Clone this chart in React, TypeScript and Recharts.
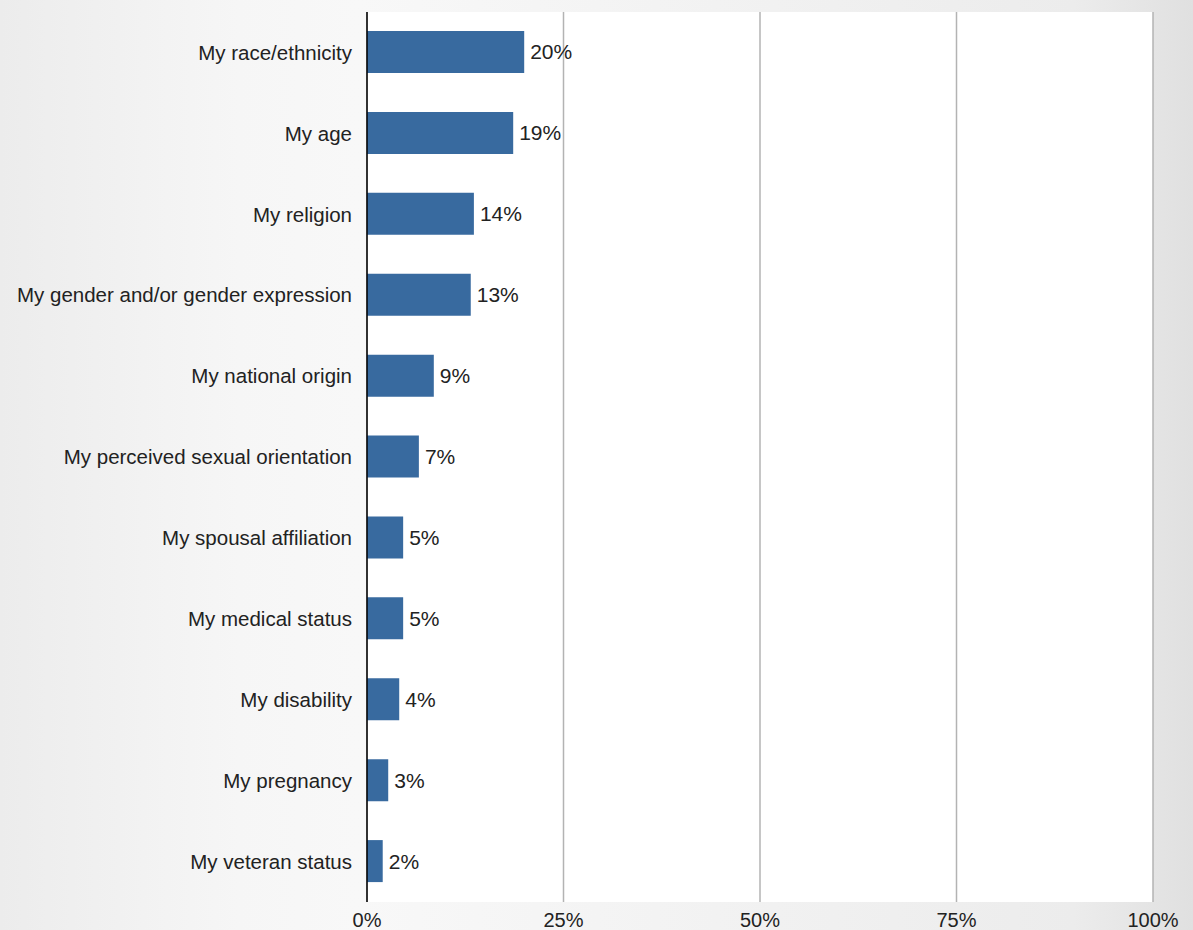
import { BarChart, Bar, XAxis, YAxis, CartesianGrid, LabelList } from 'recharts';

const categories = [
    'My race/ethnicity',
    'My age',
    'My religion',
    'My gender and/or gender expression',
    'My national origin',
    'My perceived sexual orientation',
    'My spousal affiliation',
    'My medical status',
    'My disability',
    'My pregnancy',
    'My veteran status'
];

// bar lengths (percent)
const shares = [20.0, 18.6, 13.6, 13.2, 8.5, 6.6, 4.6, 4.6, 4.1, 2.7, 2.0];

const xTicks = [0, 25, 50, 75, 100];

const data = categories.map((category, i) => ({ category, share: shares[i] }));

const font = '"Liberation Sans", Arial, Helvetica, sans-serif';

export default function App() {
    return (
        <div
            style={{
                width: 1193,
                height: 930,
                fontFamily: font,
                background:
                    'linear-gradient(to right, #ececec 0%, #f6f6f6 20%, #f8f8f8 30%, #ececec 90%, #e0e0e0 100%)'
            }}
        >
            <style>{'body{margin:0}'}</style>
            <BarChart
                width={1193}
                height={930}
                data={data}
                layout="vertical"
                margin={{ top: 12, right: 40, left: 0, bottom: 0 }}
                barCategoryGap={39}
            >
                <CartesianGrid horizontal={false} stroke="#b3b3b3" strokeWidth={1.5} fill="#ffffff" />
                <XAxis
                    type="number"
                    domain={[0, 100]}
                    ticks={xTicks}
                    tickFormatter={(v) => `${v}%`}
                    axisLine={false}
                    tickLine={false}
                    height={28}
                    tickMargin={5}
                    tick={{ fill: '#222', fontSize: 20, fontFamily: font }}
                />
                <YAxis
                    type="category"
                    dataKey="category"
                    width={367}
                    axisLine={{ stroke: '#000', strokeWidth: 1.5 }}
                    tickLine={false}
                    tickMargin={9}
                    tick={{ fill: '#222', fontSize: 20.5, fontFamily: font }}
                />
                <Bar dataKey="share" fill="#386a9f" barSize={42} isAnimationActive={false}>
                    <LabelList
                        dataKey="share"
                        position="right"
                        offset={6}
                        formatter={(v: number) => `${Math.round(v)}%`}
                        style={{ fill: '#222', fontSize: 21, fontFamily: font }}
                    />
                </Bar>
            </BarChart>
        </div>
    );
}
